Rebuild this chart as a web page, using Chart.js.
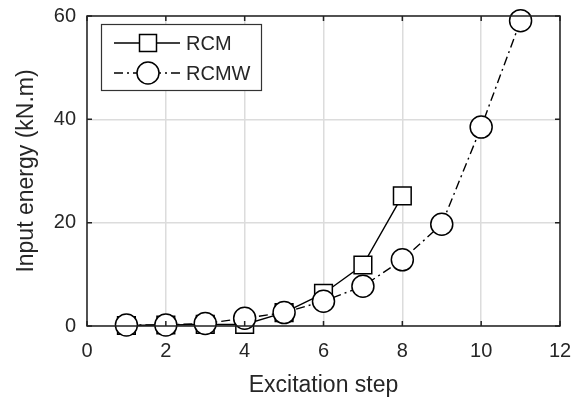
<!DOCTYPE html>
<html><head><meta charset="utf-8">
<script src="https://cdn.jsdelivr.net/npm/chart.js@4"></script>
<style>html,body{margin:0;padding:0;background:#fff}#c{display:block}</style>
</head><body>
<canvas id="c" width="581" height="402"></canvas>
<script>
const steps = [1,2,3,4,5,6,7,8,9,10,11];
const rcm = [0.1,0.2,0.3,0.3,2.6,6.3,11.8,25.2];
const rcmw = [0.2,0.2,0.5,1.5,2.6,4.8,7.7,12.8,19.7,38.5,59.1];
const seriesNames = ['RCM','RCMW'];
const xTicks = [0,2,4,6,8,10,12];
const yTicks = [0,20,40,60];
const FONT = "'Liberation Sans', Arial, sans-serif";

const frame = {
  id:'frame',
  afterDatasetsDraw(chart){
    const {ctx, chartArea:a, scales} = chart;
    ctx.save();
    ctx.strokeStyle='#222'; ctx.lineWidth=1.5;
    const L=5;
    ctx.beginPath();
    xTicks.forEach(v=>{const x=scales.x.getPixelForValue(v);
      ctx.moveTo(x,a.bottom);ctx.lineTo(x,a.bottom-L);
      ctx.moveTo(x,a.top);ctx.lineTo(x,a.top+L);});
    yTicks.forEach(v=>{const y=scales.y.getPixelForValue(v);
      ctx.moveTo(a.left,y);ctx.lineTo(a.left+L,y);
      ctx.moveTo(a.right,y);ctx.lineTo(a.right-L,y);});
    ctx.stroke();
    ctx.strokeRect(a.left,a.top,a.right-a.left,a.bottom-a.top);
    ctx.restore();
  },
  afterDraw(chart){
    const ctx=chart.ctx;
    ctx.save();
    const bx=101.5, by=24.5, bw=160, bh=66;
    ctx.fillStyle='#fff'; ctx.fillRect(bx,by,bw,bh);
    ctx.strokeStyle='#333'; ctx.lineWidth=1.2; ctx.strokeRect(bx,by,bw,bh);
    chart.data.datasets.forEach((ds,i)=>{
      const y = 43 + i*30;
      ctx.strokeStyle='#000'; ctx.lineWidth=1.4;
      ctx.setLineDash(ds.borderDash||[]);
      ctx.beginPath(); ctx.moveTo(114,y); ctx.lineTo(180,y); ctx.stroke();
      ctx.setLineDash([]);
      ctx.fillStyle='#fff'; ctx.lineWidth=1.5;
      ctx.beginPath();
      if(ds.pointStyle==='rect'){ ctx.rect(148-8.5,y-8.5,17,17);} else { ctx.arc(148,y,11,0,Math.PI*2);}
      ctx.fill(); ctx.stroke();
      ctx.fillStyle='#262626'; ctx.font='20px '+FONT; ctx.textBaseline='middle'; ctx.textAlign='left';
      ctx.fillText(ds.label,186,y+1);
    });
    ctx.restore();
  }
};

new Chart(document.getElementById('c'),{
  type:'line',
  data:{datasets:[
    {label:seriesNames[0], data:rcm.map((v,i)=>({x:steps[i],y:v})), borderColor:'#000', borderWidth:1.4,
     pointStyle:'rect', pointRadius:12.5, pointBackgroundColor:'#fff', pointBorderColor:'#000', pointBorderWidth:1.5, order:2, clip:false},
    {label:seriesNames[1], data:rcmw.map((v,i)=>({x:steps[i],y:v})), borderColor:'#000', borderWidth:1.4, borderDash:[9,4,2,4],
     pointStyle:'circle', pointRadius:11, pointBackgroundColor:'#fff', pointBorderColor:'#000', pointBorderWidth:1.5, order:1, clip:false}
  ]},
  options:{
    responsive:false, animation:false,
    layout:{padding:{top:16,right:21,left:0,bottom:0}},
    plugins:{legend:{display:false},tooltip:{enabled:false}},
    scales:{
      x:{type:'linear',min:0,max:12,
        afterBuildTicks(s){s.ticks=xTicks.map(v=>({value:v}));},
        afterFit(s){s.height=76; s.paddingLeft=0; s.paddingRight=0;},
        grid:{color:'#dcdcdc',lineWidth:1.5,drawTicks:false},
        border:{display:false},
        ticks:{padding:13,color:'#262626',font:{family:FONT,size:20},maxRotation:0},
        title:{display:true,text:'Excitation step',color:'#262626',font:{family:FONT,size:23},padding:{top:0,bottom:3}}
      },
      y:{min:0,max:60,
        afterBuildTicks(s){s.ticks=yTicks.map(v=>({value:v}));},
        afterFit(s){s.width=87; s.paddingTop=0; s.paddingBottom=0;},
        grid:{color:'#dcdcdc',lineWidth:1.5,drawTicks:false},
        border:{display:false},
        ticks:{padding:11,color:'#262626',font:{family:FONT,size:20}},
        title:{display:true,text:'Input energy (kN.m)',color:'#262626',font:{family:FONT,size:23},padding:{top:13,bottom:0}}
      }
    }
  },
  plugins:[frame]
});
</script>
</body></html>
